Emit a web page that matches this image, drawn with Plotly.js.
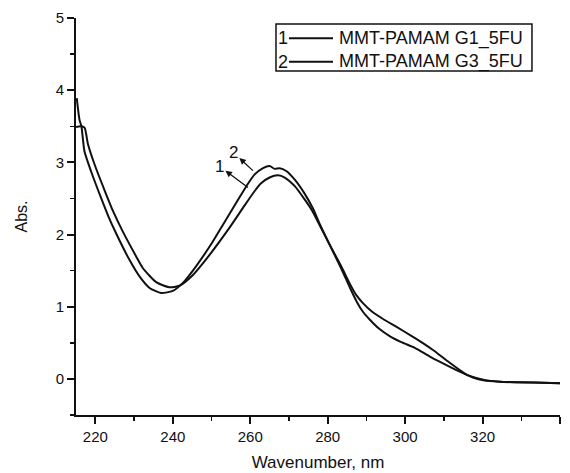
<!DOCTYPE html>
<html>
<head>
<meta charset="utf-8">
<script src="https://cdn.plot.ly/plotly-3.0.1.min.js"></script>
<style>html,body{margin:0;padding:0;background:#fff;}#chart{width:570px;height:473px;}</style>
</head>
<body>
<div id="chart"></div>
<script>
// Series 1: MMT-PAMAM G1_5FU
const waveG1 = [215.0,216.2,217.2,218.1,219.8,222.4,224.6,227.1,230.5,232.2,235.7,239.1,241.7,245.0,249.5,254.7,258.5,261.1,262.8,265.0,267.2,268.9,271.5,274.0,276.0,278.0,280.5,283.5,285.7,287.4,289.1,291.5,294.3,297.8,301.5,304.5,307.2,311.6,315.9,320.2,324.5,333.2,340.0];
const absG1  = [3.49,3.50,3.48,3.25,2.97,2.61,2.32,2.04,1.70,1.54,1.34,1.27,1.29,1.43,1.72,2.10,2.40,2.60,2.71,2.79,2.82,2.79,2.67,2.49,2.33,2.12,1.86,1.56,1.32,1.16,1.05,0.93,0.83,0.72,0.60,0.50,0.40,0.22,0.06,-0.01,-0.04,-0.05,-0.06];
// Series 2: MMT-PAMAM G3_5FU
const waveG3 = [215.2,215.9,216.4,217.2,219.0,221.6,223.3,225.5,228.8,231.4,234.0,237.0,240.0,242.6,246.0,250.3,253.0,256.5,259.0,261.1,263.3,265.0,266.3,267.6,269.3,271.5,274.0,276.2,278.0,280.5,283.5,285.7,287.5,289.1,290.9,293.4,296.1,299.0,302.5,306.4,308.9,314.1,317.5,320.2,324.5,333.2,340.0];
const absG3  = [3.89,3.59,3.50,3.15,2.86,2.49,2.26,2.00,1.65,1.42,1.26,1.19,1.22,1.33,1.56,1.90,2.14,2.45,2.67,2.83,2.92,2.95,2.91,2.92,2.88,2.76,2.57,2.36,2.14,1.86,1.53,1.27,1.07,0.93,0.82,0.69,0.59,0.51,0.43,0.31,0.24,0.10,0.02,-0.02,-0.04,-0.05,-0.06];

const seriesNames = ["MMT-PAMAM G1_5FU","MMT-PAMAM G3_5FU"];
const seriesLabels = ["1","2"];
const xTicks = [220,240,260,280,300,320,340];
const yTicks = [0,1,2,3,4,5];

const FONT = "Liberation Sans, Arial, Helvetica, sans-serif";
const lineStyle = {color:"#111", width:2, shape:"spline", smoothing:0.6};

const traces = [
  {x: waveG1, y: absG1, name: seriesNames[0], type:"scatter", mode:"lines", line: lineStyle, showlegend:false},
  {x: waveG3, y: absG3, name: seriesNames[1], type:"scatter", mode:"lines", line: lineStyle, showlegend:false}
];

// manual legend (paper coords)
const lgX0 = 0.4132, lgX1 = 0.9421, lgY0 = 0.8665, lgY1 = 0.9849;
const rowY = [0.9489, 0.8899];
const lineX0 = 0.440, lineX1 = 0.531;
const shapes = [
  {type:"rect", xref:"paper", yref:"paper", x0:lgX0, x1:lgX1, y0:lgY0, y1:lgY1, line:{color:"#111", width:1.5}, fillcolor:"rgba(0,0,0,0)"}
];
const annotations = [];
seriesNames.forEach((nm,i)=>{
  shapes.push({type:"line", xref:"paper", yref:"paper", x0:lineX0, x1:lineX1, y0:rowY[i], y1:rowY[i], line:{color:"#111", width:2}});
  annotations.push({xref:"paper", yref:"paper", x:lineX0+0.002, y:rowY[i], xanchor:"right", yanchor:"middle", text:seriesLabels[i], showarrow:false, font:{family:FONT, size:18, color:"#111"}});
  annotations.push({xref:"paper", yref:"paper", x:lineX1+0.008, y:rowY[i], xanchor:"left", yanchor:"middle", text:nm, showarrow:false, font:{family:FONT, size:18, color:"#111"}});
});
// curve labels with arrows
annotations.push({x:257.2, y:3.06, ax:15, ay:14, text:" ", showarrow:true, arrowhead:2, arrowsize:1, arrowwidth:1.3, arrowcolor:"#111", font:{size:1}, standoff:0, startstandoff:0});
annotations.push({x:253.6, y:2.885, ax:24, ay:18, text:" ", showarrow:true, arrowhead:2, arrowsize:1, arrowwidth:1.3, arrowcolor:"#111", font:{size:1}, standoff:0, startstandoff:0});
annotations.push({x:255.7, y:3.13, text:seriesLabels[1], showarrow:false, font:{family:FONT, size:17, color:"#111"}});
annotations.push({x:252.1, y:2.94, text:seriesLabels[0], showarrow:false, font:{family:FONT, size:17, color:"#111"}});

const layout = {
  width:570, height:473,
  margin:{l:76, r:10, t:18, b:58},
  paper_bgcolor:"#fff", plot_bgcolor:"#fff",
  font:{family:FONT, color:"#111"},
  showlegend:false,
  xaxis:{
    range:[215,340], tickvals:xTicks, ticktext:xTicks.map(String),
    ticks:"outside", ticklen:7, tickwidth:2, tickcolor:"#111",
    minor:{tickvals:[230,250,270,290,310,330], ticks:"outside", ticklen:4, tickwidth:1.5, tickcolor:"#111"},
    showline:true, linewidth:2, linecolor:"#111", showgrid:false, zeroline:false,
    tickfont:{family:FONT, size:15, color:"#111"},
    title:{text:"Wavenumber, nm", font:{family:FONT, size:17, color:"#111"}, standoff:12}
  },
  yaxis:{
    range:[-0.5,5], tickvals:yTicks, ticktext:yTicks.map(String),
    ticks:"outside", ticklen:7, tickwidth:2, tickcolor:"#111",
    minor:{tickvals:[-0.5,0.5,1.5,2.5,3.5,4.5], ticks:"outside", ticklen:4, tickwidth:1.5, tickcolor:"#111"},
    showline:true, linewidth:2, linecolor:"#111", showgrid:false, zeroline:false,
    tickfont:{family:FONT, size:15, color:"#111"},
    title:{text:"Abs.", font:{family:FONT, size:16, color:"#111"}, standoff:24}
  },
  shapes: shapes,
  annotations: annotations
};

Plotly.newPlot("chart", traces, layout, {staticPlot:true, displayModeBar:false});
</script>
</body>
</html>
